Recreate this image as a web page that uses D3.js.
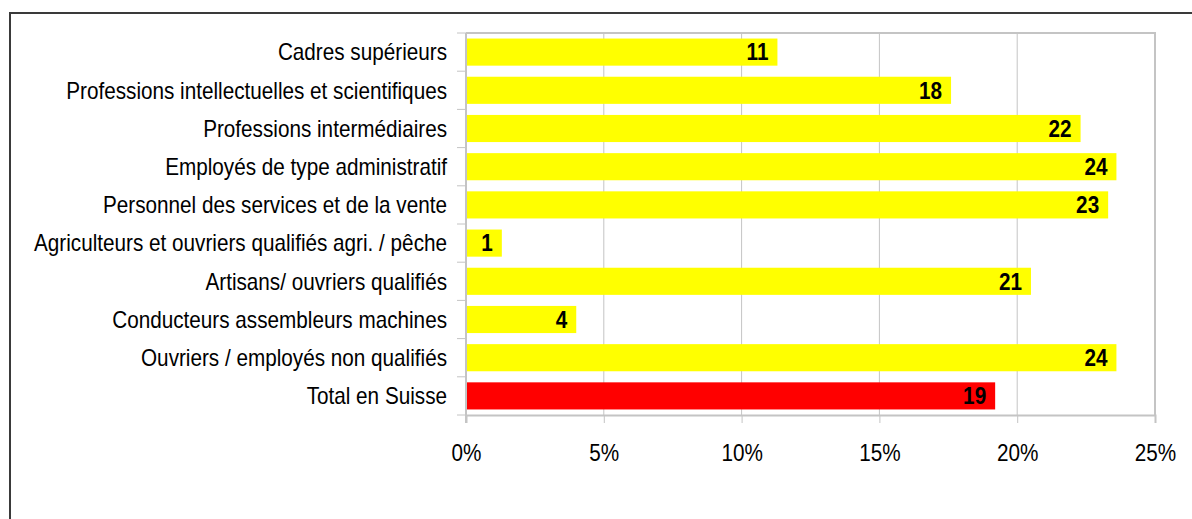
<!DOCTYPE html>
<html>
<head>
<meta charset="utf-8">
<script src="https://cdn.jsdelivr.net/npm/d3@7"></script>
<style>
  html, body { margin: 0; padding: 0; background: #fff; }
  svg { display: block; }
  text { font-family: "Liberation Sans", Arial, sans-serif; fill: #000; }
</style>
</head>
<body>
<svg id="chart_svg" width="1192" height="519"></svg>
<script>
// categories, top to bottom
const categories = [
  "Cadres supérieurs",
  "Professions intellectuelles et scientifiques",
  "Professions intermédiaires",
  "Employés de type administratif",
  "Personnel des services et de la vente",
  "Agriculteurs et ouvriers qualifiés agri. / pêche",
  "Artisans/ ouvriers qualifiés",
  "Conducteurs assembleurs machines",
  "Ouvriers / employés non qualifiés",
  "Total en Suisse"
];
// share in %
const values = [11.3, 17.6, 22.3, 23.6, 23.3, 1.3, 20.5, 4.0, 23.6, 19.2];
// printed labels
const valueLabels = ["11", "18", "22", "24", "23", "1", "21", "4", "24", "19"];
const barColors = ["#ffff00", "#ffff00", "#ffff00", "#ffff00", "#ffff00",
                   "#ffff00", "#ffff00", "#ffff00", "#ffff00", "#ff0000"];
const xTicks = [0, 5, 10, 15, 20, 25];

const svg = d3.select("#chart_svg");

const margin = { top: 33, left: 466, right: 1192 - 1155, bottom: 519 - 415 };
const width = 1192, height = 519;
const narrow = 0.9; // the original font is a condensed one
const fontSize = "23px";

// outer frame (only left and top visible)
svg.append("rect")
  .attr("x", 10).attr("y", 13)
  .attr("width", 1300).attr("height", 700)
  .attr("fill", "none")
  .attr("stroke", "#3a3a3a")
  .attr("stroke-width", 2);

const xScale = d3.scaleLinear()
  .domain([0, 25])
  .range([margin.left, width - margin.right]);

const yScale = d3.scaleBand()
  .domain(categories)
  .range([margin.top, height - margin.bottom])
  .paddingInner(0.29)
  .paddingOuter(0.145);

const gridColor = "#c4c4c4";

// vertical grid lines
svg.append("g")
  .selectAll("line")
  .data(xTicks.slice(1))
  .enter()
  .append("line")
  .attr("x1", d => xScale(d)).attr("x2", d => xScale(d))
  .attr("y1", margin.top).attr("y2", height - margin.bottom)
  .attr("stroke", gridColor)
  .attr("stroke-width", 1);

// plot frame top + right
svg.append("path")
  .attr("d", "M" + xScale(0) + "," + margin.top + "H" + xScale(25) + "V" + (height - margin.bottom))
  .attr("fill", "none")
  .attr("stroke", gridColor)
  .attr("stroke-width", 2);

// bars
svg.append("g")
  .selectAll("rect")
  .data(values)
  .enter()
  .append("rect")
  .attr("x", xScale(0))
  .attr("y", (d, i) => yScale(categories[i]))
  .attr("width", d => xScale(d) - xScale(0))
  .attr("height", yScale.bandwidth())
  .attr("fill", (d, i) => barColors[i]);

// value labels
svg.append("g")
  .selectAll("text")
  .data(values)
  .enter()
  .append("text")
  .attr("transform", (d, i) => "translate(" + (xScale(d) - 9) + "," +
        (yScale(categories[i]) + yScale.bandwidth() / 2) + ") scale(" + narrow + ",1)")
  .attr("dy", "0.36em")
  .attr("text-anchor", "end")
  .style("font-size", fontSize)
  .style("font-weight", "bold")
  .text((d, i) => valueLabels[i]);

// x axis
const x_axis = d3.axisBottom(xScale)
  .tickValues(xTicks)
  .tickSize(8)
  .tickPadding(22)
  .tickFormat(d => d + "%");

const gx = svg.append("g")
  .attr("transform", "translate(0," + (height - margin.bottom) + ")")
  .call(x_axis);
gx.select(".domain").attr("stroke", gridColor).attr("stroke-width", 2);
gx.selectAll(".tick line").attr("stroke", gridColor);
gx.selectAll(".tick text")
  .attr("transform", "scale(" + narrow + ",1)")
  .style("font-size", fontSize)
  .style("font-family", "\"Liberation Sans\", Arial, sans-serif")
  .attr("fill", "#000");

// y axis: line plus ticks at band boundaries
const step = yScale.step();
const boundaries = d3.range(categories.length + 1);
svg.append("line")
  .attr("x1", xScale(0)).attr("x2", xScale(0))
  .attr("y1", margin.top).attr("y2", height - margin.bottom + 8)
  .attr("stroke", gridColor)
  .attr("stroke-width", 2);
svg.append("g")
  .selectAll("line")
  .data(boundaries)
  .enter()
  .append("line")
  .attr("x1", xScale(0) - 9).attr("x2", xScale(0))
  .attr("y1", i => margin.top + i * step)
  .attr("y2", i => margin.top + i * step)
  .attr("stroke", gridColor)
  .attr("stroke-width", 1);

// category labels
svg.append("g")
  .selectAll("text")
  .data(categories)
  .enter()
  .append("text")
  .attr("transform", d => "translate(" + (xScale(0) - 19) + "," +
        (yScale(d) + yScale.bandwidth() / 2) + ") scale(" + narrow + ",1)")
  .attr("dy", "0.36em")
  .attr("text-anchor", "end")
  .style("font-size", fontSize)
  .text(d => d);
</script>
</body>
</html>
